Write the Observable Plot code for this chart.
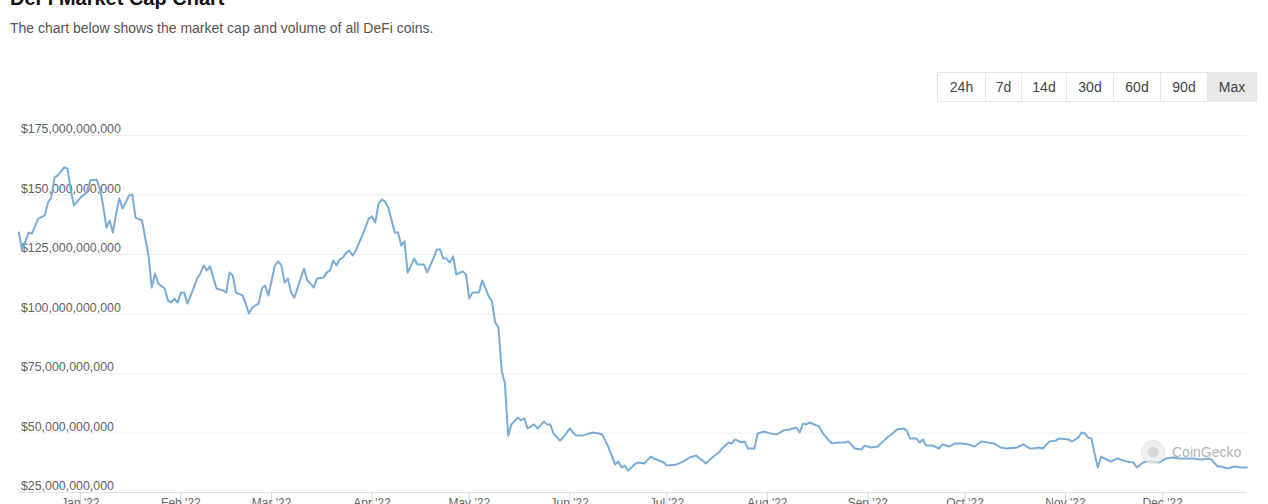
<!DOCTYPE html>
<html>
<head>
<meta charset="utf-8">
<script src="https://cdn.jsdelivr.net/npm/d3@7"></script>
<script src="https://cdn.jsdelivr.net/npm/@observablehq/plot@0.6"></script>
<style>
  html, body { margin: 0; padding: 0; background: #fff; overflow: hidden; width: 1268px; height: 504px; }
  body { position: relative; font-family: "Liberation Sans", Helvetica, Arial, sans-serif; }
  #title { position: absolute; left: 10px; top: -14px; font-size: 20px; line-height: 24px; font-weight: bold; color: #111; white-space: nowrap; }
  #subtitle { position: absolute; left: 10px; top: 18px; font-size: 14px; line-height: 20px; color: #555; white-space: nowrap; }
  #buttons { position: absolute; left: 937px; top: 72px; height: 30px; display: flex; border: 1px solid #e6e6e6; box-sizing: border-box; }
  #buttons div { height: 28px; line-height: 28px; text-align: center; font-size: 14px; color: #444; border-right: 1px solid #e6e6e6; box-sizing: border-box; }
  #buttons div:last-child { border-right: none; background: #e8e8e8; }
  #chart { position: absolute; left: 0; top: 110px; }
  #wm { position: absolute; left: 1141px; top: 440px; display: flex; align-items: center; opacity: 0.75; }
  #wm .logo { width: 24px; height: 24px; border-radius: 50%; background: #ececec; border: 1px solid #ddd; box-sizing: border-box; position: relative; }
  #wm .logo::after { content: ""; position: absolute; left: 6px; top: 6px; width: 11px; height: 10px; border-radius: 50% 60% 50% 50%; background: #c9c9c9; }
  #wm span { margin-left: 7px; font-size: 14px; color: #9a9a9a; }
</style>
</head>
<body>
<div id="title">DeFi Market Cap Chart</div>
<div id="subtitle">The chart below shows the market cap and volume of all DeFi coins.</div>
<div id="buttons"></div>
<div id="chart"></div>
<div id="wm"><div class="logo"></div><span>CoinGecko</span></div>
<script>
// Range buttons
const rangeButtons = ["24h", "7d", "14d", "30d", "60d", "90d", "Max"];
const buttonWidths = [48, 36, 45, 47, 47, 47, 48];

// DeFi market cap (billions USD)
const dates = [
"2021-12-13","2021-12-14","2021-12-16","2021-12-17","2021-12-19","2021-12-21","2021-12-22","2021-12-23","2021-12-24","2021-12-25",
"2021-12-27","2021-12-28","2021-12-29","2021-12-30","2022-01-01","2022-01-03","2022-01-04","2022-01-06","2022-01-07","2022-01-08",
"2022-01-09","2022-01-10","2022-01-11","2022-01-12","2022-01-13","2022-01-14","2022-01-16","2022-01-17","2022-01-18","2022-01-20",
"2022-01-21","2022-01-22","2022-01-23","2022-01-24","2022-01-25","2022-01-27","2022-01-28","2022-01-29","2022-01-30","2022-01-31",
"2022-02-01","2022-02-02","2022-02-03","2022-02-05","2022-02-06","2022-02-07","2022-02-08","2022-02-09","2022-02-10","2022-02-12",
"2022-02-14","2022-02-15","2022-02-16","2022-02-17","2022-02-18","2022-02-20","2022-02-21","2022-02-22","2022-02-23","2022-02-25",
"2022-02-26","2022-02-27","2022-02-28","2022-03-02","2022-03-03","2022-03-04","2022-03-05","2022-03-06","2022-03-07","2022-03-08",
"2022-03-11","2022-03-12","2022-03-13","2022-03-14","2022-03-15","2022-03-17","2022-03-18","2022-03-19","2022-03-20","2022-03-21",
"2022-03-22","2022-03-23","2022-03-24","2022-03-25","2022-03-26","2022-03-27","2022-03-28","2022-03-29","2022-03-31","2022-04-01",
"2022-04-02","2022-04-03","2022-04-04","2022-04-05","2022-04-06","2022-04-08","2022-04-09","2022-04-10","2022-04-11","2022-04-12",
"2022-04-14","2022-04-15","2022-04-17","2022-04-18","2022-04-20","2022-04-21","2022-04-22","2022-04-23","2022-04-24","2022-04-25",
"2022-04-26","2022-04-27","2022-04-29","2022-04-30","2022-05-01","2022-05-02","2022-05-04","2022-05-05","2022-05-07","2022-05-08",
"2022-05-09","2022-05-10","2022-05-11","2022-05-12","2022-05-13","2022-05-14","2022-05-16","2022-05-17","2022-05-18","2022-05-19",
"2022-05-21","2022-05-22","2022-05-24","2022-05-25","2022-05-26","2022-05-27","2022-05-29","2022-05-30","2022-06-01","2022-06-02",
"2022-06-03","2022-06-05","2022-06-08","2022-06-10","2022-06-11","2022-06-13","2022-06-15","2022-06-16","2022-06-17","2022-06-18",
"2022-06-19","2022-06-21","2022-06-22","2022-06-24","2022-06-26","2022-06-27","2022-06-30","2022-07-01","2022-07-04","2022-07-06",
"2022-07-08","2022-07-10","2022-07-12","2022-07-13","2022-07-15","2022-07-17","2022-07-18","2022-07-20","2022-07-21","2022-07-22",
"2022-07-24","2022-07-25","2022-07-26","2022-07-28","2022-07-29","2022-07-31","2022-08-02","2022-08-04","2022-08-06","2022-08-08",
"2022-08-10","2022-08-11","2022-08-12","2022-08-13","2022-08-14","2022-08-17","2022-08-18","2022-08-20","2022-08-21","2022-08-23",
"2022-08-25","2022-08-26","2022-08-28","2022-08-30","2022-08-31","2022-09-02","2022-09-04","2022-09-06","2022-09-07","2022-09-09",
"2022-09-10","2022-09-12","2022-09-13","2022-09-14","2022-09-16","2022-09-17","2022-09-18","2022-09-19","2022-09-21","2022-09-23",
"2022-09-24","2022-09-26","2022-09-28","2022-09-30","2022-10-02","2022-10-04","2022-10-06","2022-10-08","2022-10-10","2022-10-12",
"2022-10-14","2022-10-17","2022-10-19","2022-10-21","2022-10-22","2022-10-24","2022-10-25","2022-10-27","2022-10-29","2022-10-30",
"2022-11-02","2022-11-03","2022-11-05","2022-11-06","2022-11-07","2022-11-08","2022-11-09","2022-11-10","2022-11-11","2022-11-12",
"2022-11-13","2022-11-15","2022-11-17","2022-11-19","2022-11-20","2022-11-22","2022-11-23","2022-11-25","2022-11-26","2022-11-28",
"2022-11-30","2022-12-02","2022-12-04","2022-12-06","2022-12-08","2022-12-10","2022-12-13","2022-12-15","2022-12-16","2022-12-18",
"2022-12-19","2022-12-21","2022-12-23","2022-12-25","2022-12-27"
];
const marketCapB = [
134.2,126.7,134.2,133.8,140.1,141.4,146.8,148.9,157.4,158.2,
161.6,161.1,151.9,145.6,148.9,151.1,156.1,156.5,152.7,145.6,
136.3,139.3,134.2,142.2,148.5,144.3,149.8,150.2,140.5,139.3,
131.7,124.6,111.1,117.0,112.8,110.7,105.7,104.8,106.5,104.8,
109.0,109.0,104.4,111.1,114.9,117.0,120.4,118.3,120.0,110.7,
109.9,109.0,117.4,116.2,109.0,107.8,104.4,100.2,102.7,104.4,
110.7,112.0,107.8,120.4,122.1,120.4,113.2,114.9,109.0,106.9,
119.1,114.1,112.8,111.1,114.9,115.3,117.4,118.3,122.5,120.4,
122.9,123.7,125.8,126.7,124.6,126.7,130.0,133.0,140.1,141.0,
138.4,146.4,148.1,147.3,144.7,134.2,134.2,128.8,130.5,117.4,
123.3,120.8,120.8,117.4,123.7,127.1,127.1,123.3,123.3,121.6,
124.2,116.6,117.9,116.6,106.5,109.0,109.0,114.1,107.4,105.3,
96.4,94.3,76.3,70.8,48.9,53.6,56.5,55.3,56.1,51.9,
53.6,51.9,54.8,53.6,53.6,49.8,46.8,48.1,51.9,50.2,
48.9,48.9,50.2,49.8,49.4,43.9,36.8,38.0,35.5,36.3,
34.2,36.8,37.6,37.2,40.1,39.3,37.6,36.3,36.8,38.0,
39.7,40.5,38.4,37.2,39.7,41.8,43.5,46.0,45.6,47.3,
46.0,46.4,43.5,43.5,49.8,50.6,49.8,49.4,51.1,51.5,
52.3,50.2,54.0,53.6,54.4,52.7,50.2,46.8,45.6,46.0,
46.0,46.4,43.5,43.1,44.7,43.9,44.3,46.8,48.1,50.2,
51.5,51.9,51.1,47.7,47.7,46.0,47.3,44.7,44.7,43.5,
45.2,44.3,45.6,45.6,45.2,44.3,46.4,46.0,45.6,43.9,
43.5,43.9,45.2,43.5,43.5,43.9,43.5,46.4,46.8,47.7,
47.3,46.4,48.1,50.2,49.8,48.1,47.7,41.4,35.5,40.1,
39.3,38.0,39.3,38.4,38.0,37.6,35.5,37.6,38.0,38.0,
37.6,39.3,39.7,39.3,39.3,39.3,38.9,39.3,38.9,35.9,
35.9,35.1,35.9,35.5,35.5
];

// Axis ticks
const yTicksB = [25, 50, 75, 100, 125, 150, 175];
const monthTicks = ["2022-01-01","2022-02-01","2022-03-01","2022-04-01","2022-05-01","2022-06-01",
                    "2022-07-01","2022-08-01","2022-09-01","2022-10-01","2022-11-01","2022-12-01"];
const xDomain = ["2021-12-13", "2022-12-27"];

// Buttons
const btnBox = document.getElementById("buttons");
rangeButtons.forEach((label, i) => {
  const b = document.createElement("div");
  b.textContent = label;
  b.style.width = buttonWidths[i] + "px";
  btnBox.appendChild(b);
});

const data = dates.map((d, i) => ({date: new Date(d), value: marketCapB[i]}));
const fmt = d3.format(",");

const chart = Plot.plot({
  width: 1268,
  height: 420,
  marginLeft: 18.4,
  marginRight: 21.6,
  marginTop: 25,
  marginBottom: 38,
  style: {fontFamily: "'Liberation Sans', Helvetica, Arial, sans-serif", fontSize: "12px", background: "transparent"},
  x: {type: "utc", domain: xDomain.map(d => new Date(d))},
  y: {domain: [25, 175]},
  marks: [
    Plot.ruleY(yTicksB.slice(1), {stroke: "#efefef", strokeWidth: 1}),
    Plot.ruleY([25], {stroke: "#e2e2e2", strokeWidth: 1}),
    Plot.axisX({
      ticks: monthTicks.map(d => new Date(d)),
      tickSize: 14,
      tickPadding: -8,
      tickFormat: d3.utcFormat("%b '%y"),
      stroke: "#d8d8d8",
      fill: "#666",
      fontSize: 12,
      label: null
    }),
    Plot.axisY({
      ticks: yTicksB,
      anchor: "left",
      tickSize: 0,
      tickPadding: -2,
      textAnchor: "start",
      dy: -6,
      tickFormat: v => "$" + fmt(v * 1e9),
      fill: "#5f5f5f",
      fontSize: 12.4,
      label: null
    }),
    Plot.line(data, {x: "date", y: "value", stroke: "#79acd9", strokeWidth: 2, strokeLinejoin: "round"})
  ]
});
document.getElementById("chart").appendChild(chart);
</script>
</body>
</html>
